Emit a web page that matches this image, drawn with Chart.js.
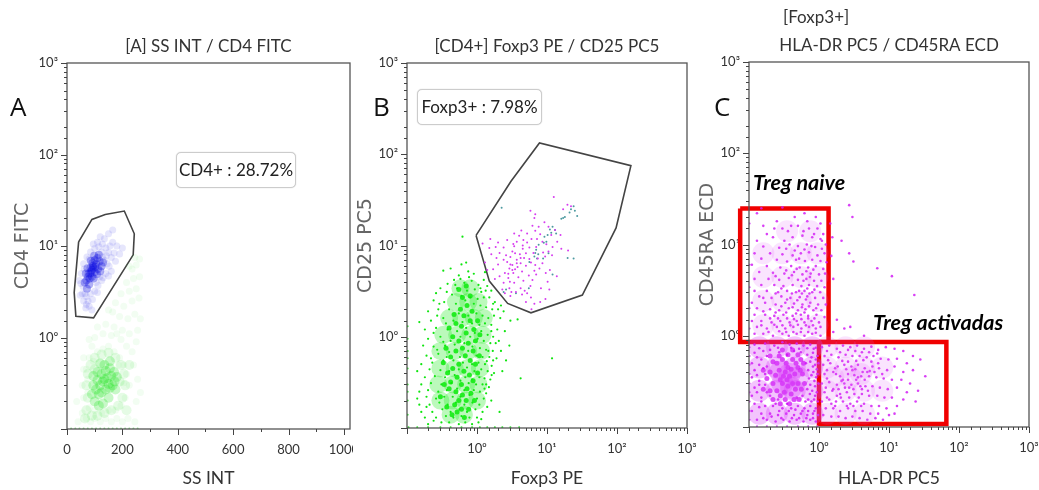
<!DOCTYPE html>
<html><head><meta charset="utf-8">
<style>
html,body{margin:0;padding:0;background:#fff;overflow:hidden}
#wrap{position:relative;width:1039px;height:490px;overflow:hidden;background:#fff}
canvas{position:absolute;top:0;background:#fff}
.t{position:absolute;white-space:nowrap;z-index:5}
.panel{font:26px "Open Sans",sans-serif;color:#111;line-height:30px}
.box{font:17px Lato,sans-serif;color:#222;border:1.5px solid #ccc;border-radius:5px;background:#fff;box-sizing:border-box;text-align:center;box-shadow:0 0 1px #bbb}
.treg{font:italic bold 21.5px Lato,sans-serif;color:#000}
</style></head><body>
<div id="wrap">
<canvas id="cA" width="360" height="490" style="left:0"></canvas>
<canvas id="cB" width="344" height="490" style="left:353px"></canvas>
<canvas id="cC" width="342" height="490" style="left:697px"></canvas>
<div class="t panel" style="left:10px;top:91px">A</div>
<div class="t panel" style="left:373px;top:91px">B</div>
<div class="t panel" style="left:714px;top:91px">C</div>
<div class="t box" style="left:176px;top:152px;width:120px;height:36px;line-height:33px">CD4+ : 28.72%</div>
<div class="t box" style="left:417px;top:89px;width:125px;height:36px;line-height:33px">Foxp3+ : 7.98%</div>
<div class="t treg" style="left:753px;top:169px">Treg naive</div>
<div class="t treg" style="left:873px;top:309px">Treg activadas</div>
<div class="t" style="left:783px;top:6px;font:17px Lato,sans-serif;color:#333">[Foxp3+]</div>
</div>
<script src="https://cdn.jsdelivr.net/npm/chart.js@4"></script>
<script>
const titleA="[A] SS INT / CD4 FITC", titleB="[CD4+] Foxp3 PE / CD25 PC5", titleC="HLA-DR PC5 / CD45RA ECD";
const logTickLabels={0.1:"",1:"10⁰",10:"10¹",100:"10²",1000:"10³"};

const gateA=[[42,11.1],[90,19.5],[138,22.1],[207,24.1],[243,13.6],[239,8],[96,1.64],[32,1.71],[26,3.1],[42,11.1]];
const gateB=[[.97,12.9],[3.06,50.6],[7.8,133],[158,75],[97,15.6],[32,2.86],[5.9,1.83],[2.74,2.32],[1.5,4.07],[.97,12.9]];
const rectNaive=[[.0748,24.8],[1.37,24.8],[1.37,.853],[.0748,.853],[.0748,24.8]];
const rectActiv=[[1,.853],[66,.853],[66,.108],[1,.108],[1,.853]];

const aBlueCore=[[70,4.2],[78,5],[85,5.8],[92,6.5],[100,7],[110,7.4],[118,6.8],[125,6],[112,5.6],[100,5.2],[90,4.6],[80,3.8],[72,3.4],[95,5.8],[105,6.3],[88,5.3],[82,4.4],[76,4.6],[96,4.4],[108,4.9],[120,5.3],[130,6.6],[115,8],[98,7.8],[86,6.9],[74,5.7],[68,5],[64,4],[90,5.5],[102,5.9],[84,5],[94,6.1]];
const aBlueHaze=[[55,3],[60,2.5],[68,2.1],[80,2.2],[92,2.6],[100,3.2],[112,3.7],[125,4.2],[140,5],[152,6],[160,7.5],[150,8.5],[140,9.5],[128,10.5],[115,9.8],[100,9.4],[85,8.6],[72,7.6],[60,6.4],[52,5],[50,3.9],[58,3.6],[70,2.8],[85,3],[105,4],[135,7],[145,6.4],[125,8.6],[110,11],[135,12],[155,10],[170,8.4],[165,11],[150,13.6],[165,15],[180,10],[190,8.2],[200,9.5],[175,6.8],[160,5.3],[130,4.5],[90,2],[48,2.9],[45,4.2],[70,2.3],[110,3.1],[95,10.5],[120,12.6],[142,7.8],[128,7.6],[62,5.6],[80,7.2],[65,3],[76,2.5],[118,4.6],[150,4.7]];
const aGreenCore=[[130,.33],[145,.36],[160,.38],[172,.33],[155,.28],[140,.27],[125,.25],[115,.24],[105,.27],[95,.3],[110,.34],[125,.4],[140,.43],[155,.46],[170,.42],[180,.37],[165,.3],[150,.22],[130,.19],[115,.18],[100,.2],[90,.24],[120,.3],[135,.35],[150,.31],[110,.42],[95,.38],[175,.27],[135,.5],[155,.55],[120,.52]];
const aGreenMid=[[70,.16],[75,.22],[70,.3],[75,.4],[85,.5],[100,.6],[125,.65],[150,.68],[175,.6],[195,.5],[205,.4],[210,.3],[200,.22],[185,.18],[160,.16],[135,.15],[110,.14],[90,.14],[100,.45],[190,.33],[65,.13],[215,.16],[225,.5]];
const aGreenHaze=[[40,.12],[55,.15],[70,.13],[85,.12],[100,.13],[120,.12],[140,.13],[160,.12],[180,.13],[200,.12],[220,.13],[245,.12],[35,.2],[60,.22],[75,.25],[75,.35],[70,.45],[80,.6],[90,.8],[110,.7],[130,.75],[150,.8],[170,.7],[190,.6],[205,.5],[215,.4],[225,.3],[210,.22],[195,.18],[175,.16],[150,.16],[125,.15],[100,.16],[80,.17],[55,.3],[60,.45],[240,.5],[255,.35],[265,.25],[250,.2],[235,.7],[250,.9],[215,.8],[195,.95],[160,1.05],[130,1.1],[110,1.3],[140,1.4],[170,1.3],[200,1.2],[225,1.1],[255,1.2],[265,1.6],[245,1.8],[220,1.6],[190,1.7],[165,1.9],[150,2],[175,2.4],[205,2.2],[235,2.5],[260,2.7],[250,3.4],[225,3.2],[195,3],[215,4],[240,4.4],[262,4.6],[235,5.6],[250,6.2],[245,7.5],[225,6],[262,7.2],[180,1.1],[100,1],[80,.95],[95,.55],[185,.5],[205,.32],[60,.6]];
const aGreenEdge=[[15,.101],[30,.101],[45,.101],[60,.101],[75,.101],[90,.101],[105,.101],[120,.101],[135,.101],[150,.101],[165,.101],[180,.101],[195,.101],[210,.101],[225,.101],[240,.101],[255,.101]];

const bGreenWash=[[.42,.14],[.65,.14],[.3,.2],[.45,.2],[.68,.2],[1,.2],[.28,.3],[.45,.3],[.7,.3],[1.05,.3],[.3,.45],[.48,.45],[.72,.45],[1.1,.45],[.3,.7],[.48,.7],[.75,.7],[1.15,.7],[.33,1.05],[.52,1.05],[.8,1.05],[1.2,1.05],[.4,1.6],[.6,1.6],[.9,1.6],[1.25,1.6],[.5,2.4],[.75,2.4],[1.05,2.4],[.58,3.4],[.8,3.4]];
const bGreenCore=[[.6,1.3],[.7,1.1],[.55,.9],[.75,.85],[.62,.75],[.5,.7],[.68,.62],[.8,.55],[.55,.5],[.45,.45],[.65,.42],[.78,.38],[.52,.36],[.42,.32],[.6,.3],[.72,.27],[.5,.25],[.4,.27],[.62,.23],[.55,.2],[.48,.18],[.7,.2],[.6,.16],[.52,.15],[.8,1.5],[.65,1.7],[.9,1.2],[.95,.9],[.88,.7],[.45,1],[.5,1.4],[.58,2],[.72,2.2],[.85,1.9],[.42,.6],[.95,.5],[.88,.33],[.38,.4],[.82,.24],[.34,.3],[.3,.22],[.37,.17],[.44,.14],[.66,.13],[.76,.16],[.92,.2],[.33,.52],[.36,.75],[.4,1.25],[.47,1.75],[.62,2.7],[.8,2.8],[1.02,1.5],[1.1,1.05],[1.08,.62],[1.02,.4],[.55,3.3],[.7,3.6]];
const bGreen=[[.42,5.6],[.6,6.2],[.75,5.2],[.9,4.9],[1.3,5.1],[.33,5.3],[.55,4.7],[.7,6.5],[.62,12.5],[.47,4.2],[.66,3.9],[.84,4.1],[1.05,3.7],[1.25,4.2],[.38,3.8],[.3,3.4],[.26,3],[.52,3.4],[.72,3.2],[.93,3.3],[1.15,3.1],[1.4,3.6],[1.6,3.2],[.44,2.9],[.6,2.8],[.8,2.7],[1.02,2.6],[1.25,2.7],[1.5,2.7],[1.8,2.4],[.24,2.5],[.34,2.4],[.5,2.3],[.68,2.5],[.9,2.3],[1.12,2.2],[1.35,2.1],[1.65,2],[2,2],[2.4,1.9],[.2,1.9],[.28,2],[.4,2],[.55,1.8],[.75,1.7],[.98,1.8],[1.2,1.7],[1.45,1.6],[1.75,1.7],[2.15,1.6],[3,1.5],[3.8,1.55],[.15,1.45],[.22,1.5],[.33,1.6],[.46,1.5],[.62,1.45],[.85,1.4],[1.08,1.35],[1.3,1.4],[1.6,1.35],[1.95,1.2],[2.5,1.15],[.18,1.2],[.26,1.25],[.38,1.2],[.52,1.15],[.7,1.25],[.93,1.1],[1.15,1.15],[1.42,1.05],[1.7,1],[.2,.95],[.3,1],[.42,.9],[.58,1],[.8,1],[1.02,.95],[1.25,.9],[1.55,.85],[2.05,.9],[2.9,.8],[.17,.8],[.24,.78],[.35,.8],[.48,.82],[.66,.85],[.86,.78],[1.1,.75],[1.35,.72],[1.68,.7],[2.2,.7],[.19,.62],[.28,.65],[.4,.68],[.57,.6],[.75,.7],[.98,.62],[1.2,.6],[1.5,.6],[1.9,.58],[2.6,.55],[.16,.5],[.23,.52],[.33,.55],[.46,.55],[.63,.52],[.85,.5],[1.05,.52],[1.3,.5],[1.62,.48],[.14,.42],[.21,.44],[.3,.43],[.4,.42],[.55,.44],[.72,.46],[.92,.42],[1.15,.44],[1.42,.42],[1.75,.4],[11.8,.58],[4.2,.35],[.18,.36],[.25,.37],[.35,.36],[.48,.38],[.68,.36],[.85,.34],[1.08,.36],[1.28,.35],[1.55,.34],[.16,.3],[.22,.31],[.31,.3],[.43,.31],[.58,.33],[.76,.31],[.97,.3],[1.2,.3],[1.48,.28],[.15,.25],[.2,.26],[.28,.25],[.37,.26],[.52,.27],[.66,.26],[.9,.26],[1.1,.25],[1.35,.24],[.14,.21],[.19,.22],[.26,.21],[.34,.22],[.45,.22],[.58,.22],[.78,.23],[1,.21],[1.25,.21],[1.6,.2],[.15,.18],[.21,.18],[.29,.19],[.38,.18],[.5,.19],[.66,.18],[.86,.19],[1.08,.18],[1.4,.17],[2.1,.15],[.16,.15],[.23,.15],[.32,.16],[.42,.15],[.56,.16],[.72,.15],[.95,.16],[1.2,.15],[.18,.13],[.26,.13],[.36,.135],[.46,.13],[.6,.135],[.78,.13],[1,.13],[.2,.11],[.4,.115],[.55,.11],[.68,.115],[.85,.11],[1.05,.115],[.29,2.3],[.37,3.1],[.49,3.7],[.58,4.3],[.77,4.5],[1.12,3.4],[1.33,3.2],[1.7,2.3],[2.2,2.2],[.27,1.7],[.36,1.4],[.24,1.1],[.33,.88],[.27,.72],[.22,.58],[.37,.6],[1.6,1.15],[1.85,.85],[1.45,.7],[1.7,.55],[1.38,.54],[1.62,.38],[1.35,.3],[1.28,.27],[.19,.17],[.24,.12],[.31,.115],[1.15,.125],[2.3,.42]];
const bGreenEdge=[[.105,.102],[.14,.102],[.2,.102],[.3,.102],[.42,.102],[.6,.102],[.85,.102],[1.1,.102],[1.4,.102],[1.8,.102],[2.3,.102],[3,.102],[4,.102],[.102,.14],[.102,.2],[.102,.3],[.102,.45],[.102,.7],[.102,.95],[.102,1.3],[.102,.58],[.102,.25]];
const bMagenta=[[1.2,10.5],[1.5,9.4],[1.6,8],[1.3,6.5],[1.4,5.4],[1.7,5.5],[2,6.2],[1.9,7.3],[2.1,8.3],[2.4,9.5],[2,10.8],[2.7,11.5],[2.4,7],[2.7,6.6],[3,7.5],[3.2,8.6],[3.4,9.8],[3.7,11],[4,12.8],[3.4,13.5],[4.6,11.5],[4.5,9.2],[4.1,8],[3.7,7],[3.2,6.1],[2.9,5.6],[2.5,5],[2.1,4.6],[1.8,4.3],[2.4,3.9],[2.8,4.4],[3.3,5],[3.5,5.5],[3.8,5.8],[4.2,6.4],[4.7,7.3],[5,8.2],[5.6,9.5],[5.2,10.8],[6,11.8],[5.2,13.5],[6.8,14.5],[8,13.3],[7.6,16],[6.2,16.5],[6.6,20],[5.8,24],[6.8,22],[12.5,34],[9.2,18],[10.5,16],[8.6,11],[7,9.6],[6.4,8.3],[5.6,7.1],[5,6],[4.4,5.2],[3.9,4.5],[3.4,3.9],[2.9,3.4],[2.5,3],[2.3,3.3],[3,2.8],[3.6,3.1],[4.2,3.4],[4.8,3.2],[5.2,3],[5.8,3.6],[6.2,4.2],[7,4.8],[7.8,5.6],[8.6,6.4],[9.4,7.6],[10.5,8.6],[12,9.6],[14,11],[15.6,13],[13,14.8],[11.5,13],[6,2],[6.6,2.3],[8,2.4],[9.5,2.6],[10.8,3.3],[8.2,3.4],[4.6,4.1],[5.5,4.7],[6.8,6.1],[7.4,7.2],[8.8,8.4],[20,8.8],[13.8,4.6],[16,9.2],[22,27],[19.6,28],[17,25],[3.1,3.1],[2.6,7.8],[1.85,9.6],[1.55,11.8],[3.3,10.4],[4.3,14.6],[2.95,4],[3.7,6.4],[4.2,7.3],[5.9,6.5],[6.6,5.3],[9.6,5],[11,5.4],[3.2,5.4],[2.8,4.9],[3,6.2],[3.5,8.2],[4.5,10],[7.2,11.8],[9.8,10.3],[11.8,7.8],[10.2,4],[5,2.4],[4.4,2.9],[5.9,2.7]];
const bTeal=[[22,25],[24,27],[25,24],[21,23],[27,21],[17,20],[16,19.6],[18,20.5],[12,16],[13,14.8],[11.5,13.8],[10.2,13],[11,15],[13.5,13.5],[9.2,12.5],[9,10.7],[9.8,11],[7.6,10.2],[7,9],[6.8,8.3],[7.5,8],[6.6,7.6],[7.2,7.2],[8.8,7.2],[19.7,7.3],[24,7.2],[12,4.8],[2.6,3.3],[2.4,3.1],[2.25,26],[5.5,3.4],[3.6,3],[5.6,6.6],[10.5,8.2]];

const cNaiveWash=[[.16,1.3],[.3,1.3],[.55,1.3],[.95,1.3],[.16,2.4],[.3,2.4],[.55,2.4],[.95,2.4],[.16,4.4],[.3,4.4],[.55,4.4],[.95,4.4],[.16,8],[.3,8],[.55,8],[.95,8],[.35,14],[.75,14]];
const cNaive=[[.15,25],[.3,25.5],[.13,22],[.25,18],[.45,20],[.62,22],[.9,20],[1.05,17],[.16,16],[.3,15],[.18,13],[.36,14],[.5,16],[.72,15],[.95,15],[1.15,13],[.13,11],[.22,12],[.32,11],[.42,12],[.58,12.5],[.8,12],[1.05,11.5],[1.25,10],[.16,9.5],[.27,9.2],[.38,10],[.5,9.6],[.67,10],[.88,9.4],[1.1,9],[.12,8],[.2,8],[.3,7.8],[.42,7.6],[.55,8],[.72,8.2],[.95,7.6],[1.2,8],[.15,7],[.25,6.8],[.35,6.5],[.47,6.8],[.63,6.6],[.8,6.8],[1.05,6.6],[1.28,6.4],[.11,6],[.18,5.8],[.28,5.6],[.4,5.8],[.53,5.6],[.7,5.6],[.9,5.8],[1.15,5.4],[.14,5],[.22,4.9],[.32,4.8],[.44,5],[.58,4.7],[.76,4.8],[1,4.7],[1.22,4.8],[.12,4.2],[.19,4.2],[.27,4.1],[.37,4.3],[.5,4.1],[.66,4.2],[.85,4],[1.08,4],[.15,3.6],[.23,3.6],[.31,3.5],[.42,3.6],[.56,3.5],[.72,3.6],[.94,3.5],[1.2,3.4],[.12,3.1],[.18,3.1],[.26,3],[.35,3.1],[.47,3],[.62,3.1],[.8,3],[1.04,3],[.14,2.7],[.21,2.6],[.29,2.7],[.39,2.6],[.53,2.65],[.68,2.7],[.88,2.6],[1.15,2.6],[.11,2.3],[.17,2.3],[.24,2.2],[.33,2.3],[.44,2.25],[.58,2.2],[.75,2.3],[.97,2.2],[1.25,2.2],[.13,2],[.2,1.95],[.27,1.9],[.37,2],[.5,1.9],[.64,1.95],[.83,1.9],[1.08,1.9],[.12,1.7],[.17,1.7],[.23,1.65],[.31,1.7],[.42,1.65],[.55,1.7],[.7,1.65],[.92,1.7],[1.2,1.6],[.11,1.45],[.15,1.45],[.21,1.4],[.28,1.45],[.38,1.4],[.48,1.45],[.62,1.4],[.78,1.45],[1,1.4],[.13,1.25],[.18,1.2],[.25,1.25],[.33,1.2],[.43,1.25],[.56,1.2],[.72,1.25],[.9,1.2],[.12,1.05],[.16,1.05],[.22,1],[.3,1.05],[.37,1],[.48,1.05],[.62,1],[.8,1.05],[1.05,1],[1.45,17],[1.55,12],[1.5,7.5],[1.6,4.2],[2.7,27],[3,20],[2.1,11],[2.7,8],[3.1,6.5],[6.8,5.5],[11,4.5],[23,2.8],[1.8,1.5],[2.3,1.2],[2.8,1.25],[4.4,1],[1.6,1.1],[.34,9],[.45,8.6],[.62,8.8],[.78,9.6],[.52,7],[.34,5.2],[.48,5.4],[.66,5.1],[.83,5.3],[.24,4.5],[.41,4.6],[.6,4],[.74,4.4],[.29,3.3],[.52,3.1],[.68,3.3],[.86,3.2],[.24,2.9],[.41,2.9],[.57,2.9],[.73,2.9],[.16,2.6],[.35,2.5],[.49,2.45],[.65,2.5],[.29,2.1],[.42,2.05],[.57,2.05],[.72,2.1],[.91,2],[.16,1.85],[.24,1.8],[.34,1.8],[.47,1.75],[.62,1.8],[.2,1.55],[.26,1.55],[.35,1.55],[.44,1.52],[.56,1.52],[.7,1.55],[.86,1.55],[.15,1.3],[.23,1.32],[.3,1.3],[.39,1.3],[.5,1.32],[.65,1.3],[.82,1.3],[1.05,1.25],[.19,1.1],[.27,1.12],[.34,1.1],[.43,1.1],[.55,1.1],[.7,1.1],[.9,1.08],[.6,14],[.85,13],[1.1,11],[.68,18],[.4,16],[.23,15]];
const cLowWash=[[.14,.14],[.25,.14],[.45,.14],[.8,.14],[.14,.25],[.25,.25],[.45,.25],[.8,.25],[.14,.45],[.25,.45],[.45,.45],[.8,.45],[.14,.75],[.25,.75],[.45,.75],[.8,.75],[.3,.3],[.38,.38],[.28,.4],[.4,.27],[.5,.35]];
const cLowCore=[[.2,.4],[.25,.5],[.3,.55],[.36,.45],[.42,.55],[.5,.45],[.58,.38],[.5,.3],[.42,.3],[.35,.33],[.28,.33],[.22,.3],[.18,.34],[.25,.25],[.32,.24],[.4,.23],[.33,.4],[.27,.42],[.45,.38],[.36,.28],[.3,.3],[.38,.36],[.24,.37],[.46,.26],[.33,.2],[.55,.55],[.2,.6],[.3,.7],[.42,.7],[.38,.18],[.16,.26],[.62,.3],[.22,.52],[.34,.5],[.47,.5],[.54,.42],[.56,.26],[.28,.22],[.2,.25],[.16,.42],[.27,.6],[.36,.62],[.5,.62],[.6,.5],[.44,.2],[.52,.2],[.28,.18],[.22,.2],[.4,.43],[.31,.36]];
const cLow=[[.12,.8],[.17,.82],[.23,.78],[.3,.85],[.38,.8],[.48,.82],[.6,.78],[.75,.8],[.9,.74],[.12,.65],[.16,.68],[.2,.7],[.27,.66],[.35,.62],[.44,.68],[.55,.66],[.68,.62],[.82,.65],[.95,.6],[.11,.5],[.15,.55],[.65,.5],[.75,.52],[.88,.48],[.98,.5],[.12,.42],[.16,.44],[.7,.42],[.83,.4],[.95,.38],[.11,.35],[.14,.32],[.72,.34],[.86,.32],[.98,.3],[.12,.27],[.68,.26],[.8,.25],[.93,.24],[.11,.22],[.15,.21],[.2,.22],[.26,.2],[.48,.21],[.58,.22],[.7,.2],[.85,.2],[.96,.19],[.12,.18],[.17,.17],[.22,.17],[.3,.16],[.4,.16],[.5,.17],[.62,.16],[.75,.17],[.9,.16],[.11,.15],[.15,.14],[.2,.14],[.26,.135],[.34,.14],[.44,.135],[.55,.14],[.68,.135],[.82,.14],[.97,.135],[.13,.12],[.18,.12],[.24,.115],[.31,.12],[.38,.115],[.48,.12],[.6,.115],[.75,.12],[.9,.115],[.14,.73],[.26,.74],[.4,.74],[.52,.72],[.68,.73],[.84,.72],[.13,.58],[.18,.6],[.78,.58],[.9,.55],[.14,.48],[.18,.46],[.82,.46],[.93,.43],[.13,.37],[.17,.38],[.78,.37],[.91,.35],[.14,.29],[.17,.29],[.75,.29],[.88,.28],[.13,.24],[.18,.24],[.74,.23],[.88,.22],[.15,.19],[.24,.18],[.35,.18],[.64,.19],[.78,.19],[.14,.165],[.27,.15],[.37,.15],[.46,.155],[.58,.15],[.7,.15],[.86,.15],[.16,.125],[.21,.13],[.29,.125],[.41,.125],[.52,.125],[.66,.125],[.82,.125]];
const cActivWash=[[1.3,.14],[2.4,.14],[4.4,.14],[1.3,.25],[2.4,.25],[4.4,.25],[8,.25],[1.3,.45],[2.4,.45],[4.4,.45],[8,.45],[1.3,.75],[2.4,.75],[4.4,.75],[1.6,.35],[2.8,.35],[4,.38]];
const cActiv=[[1.1,.75],[1.4,.78],[1.8,.72],[2.2,.78],[2.8,.75],[3.5,.78],[4.4,.72],[5.6,.76],[7,.7],[9,.75],[12,.72],[16,.68],[22,.6],[1.2,.6],[1.5,.62],[1.9,.58],[2.4,.62],[3,.6],[3.8,.6],[4.8,.58],[6,.6],[7.6,.56],[9.8,.55],[13,.56],[18,.5],[28,.55],[1.15,.48],[1.45,.5],[1.85,.46],[2.3,.48],[2.9,.46],[3.6,.48],[4.5,.44],[5.8,.46],[7.2,.44],[9.4,.42],[12,.46],[16,.4],[22,.42],[33,.36],[1.2,.38],[1.6,.4],[2,.36],[2.6,.38],[3.2,.37],[4,.36],[5.2,.36],[6.6,.35],[8.4,.34],[11,.33],[15,.33],[20,.3],[1.1,.3],[1.4,.31],[1.8,.29],[2.3,.3],[2.9,.29],[3.6,.3],[4.6,.28],[5.8,.28],[7.4,.27],[9.6,.26],[13,.27],[18,.24],[26,.25],[1.2,.24],[1.55,.25],[2,.23],[2.5,.24],[3.2,.23],[4.1,.23],[5.2,.22],[6.8,.22],[8.6,.21],[11,.21],[16,.2],[24,.19],[1.1,.19],[1.4,.2],[1.75,.19],[2.2,.19],[2.8,.18],[3.5,.19],[4.4,.18],[5.6,.17],[7.2,.17],[9.2,.16],[13,.17],[1.25,.16],[1.6,.16],[2,.15],[2.6,.16],[3.3,.15],[4.2,.15],[5.4,.14],[7,.14],[10,.135],[12,.14],[1.15,.135],[1.5,.13],[1.9,.13],[2.4,.125],[3,.13],[3.8,.125],[4.9,.12],[6.4,.125],[8.2,.12],[1.7,.17],[2.05,.21],[2.7,.27],[3.4,.33],[4.2,.4],[2.2,.33],[1.6,.26],[3,.42],[3.9,.28],[5.3,.41],[7,.5],[2.6,.52],[1.7,.44],[1.3,.68],[2,.66],[2.6,.7],[3.3,.68],[4.1,.66],[5.2,.66],[6.8,.64],[1.35,.54],[2.15,.53],[3.4,.53],[4.3,.54],[5.6,.52],[1.3,.42],[1.75,.38],[2.45,.43],[3.3,.43],[4.9,.4],[6.2,.4],[8,.38],[1.3,.34],[2.1,.32],[2.6,.33],[3.6,.35],[4.5,.33],[1.25,.27],[1.9,.26],[2.35,.27],[3.1,.26],[4.1,.26],[5,.25],[1.3,.21],[1.8,.22],[2.7,.21],[3.7,.21],[1.5,.18],[2.5,.17],[3.1,.17],[4,.17]];
const cEdge=[[.102,.12],[.102,.15],[.102,.19],[.102,.24],[.102,.3],[.102,.38],[.102,.48],[.102,.6],[.102,.75],[.102,1.2],[.102,2],[.102,3.4],[.102,6],[.102,17],[.13,.102],[.18,.102],[.25,.102],[.35,.102],[.5,.102],[.7,.102],[.95,.102]];

const face='Lato,sans-serif';
const frameAndTicks={id:'frameAndTicks',afterDraw(c){
  const g=c.ctx,a=c.chartArea;g.save();g.strokeStyle='#555';g.lineWidth=1.3;
  g.strokeRect(a.left,a.top,a.right-a.left,a.bottom-a.top);
  g.lineWidth=1;g.strokeStyle='#444';
  for(const t of c.scales.y.ticks){const p=Math.round(c.scales.y.getPixelForValue(t.value))+.5,L=logTickLabels[t.value]!==undefined?6:3;g.beginPath();g.moveTo(a.left,p);g.lineTo(a.left-L,p);g.stroke();}
  for(const t of c.scales.x.ticks){const p=Math.round(c.scales.x.getPixelForValue(t.value))+.5,lin=c.scales.x.type==='linear',L=lin?(t.value%200===0?6:3):(logTickLabels[t.value]!==undefined?6:3);g.beginPath();g.moveTo(p,a.bottom);g.lineTo(p,a.bottom+L);g.stroke();}
  g.restore();}};
const pts=a=>a.map(([x,y])=>({x,y}));
const cloud=(d,color,r)=>({data:pts(d),backgroundColor:color,borderWidth:0,pointRadius:r,pointStyle:'circle',showLine:false});
const outline=(d,color,w,clip)=>({data:pts(d),showLine:true,fill:false,borderColor:color,borderWidth:w,pointRadius:0,tension:0,clip:clip});
const logTick=v=>logTickLabels[v]||'';
function panel(id,o){
  return new Chart(document.getElementById(id),{type:'scatter',plugins:[frameAndTicks],
   data:{datasets:o.datasets},
   options:{responsive:false,animation:false,devicePixelRatio:1,events:[],
    layout:{autoPadding:false,padding:{left:0,right:o.right,top:0,bottom:0}},
    plugins:{legend:{display:false},tooltip:{enabled:false},
     title:{display:true,text:o.title,fullSize:false,color:'#333',font:{family:face,size:17,weight:'normal'},padding:{top:o.top-27,bottom:6.6}}},
    scales:{
     x:{type:o.linear?'linear':'logarithmic',min:o.linear?0:.1,max:o.linear?1022:1000,
        afterFit:s=>{s.height=490-o.bottom;s.paddingLeft=0;s.paddingRight=0},
        grid:{display:false,drawTicks:false},border:{display:false},
        ticks:o.linear?{stepSize:100,autoSkip:false,includeBounds:false,maxRotation:0,padding:13,color:'#333',font:{family:face,size:13},callback:v=>v%200===0?String(v):''}
                      :{autoSkip:false,maxRotation:0,padding:13,color:'#333',font:{family:face,size:13},callback:logTick},
        title:{display:true,text:o.xTitle,color:'#333',font:{family:face,size:17.5,weight:'normal'},padding:{top:0,bottom:1}}},
     y:{type:'logarithmic',min:.1,max:1000,
        afterFit:s=>{s.width=o.left;s.paddingTop=0;s.paddingBottom=0},
        grid:{display:false,drawTicks:false},border:{display:false},
        ticks:{autoSkip:false,padding:9,color:'#333',font:{family:face,size:13},callback:logTick},
        title:{display:true,text:o.yTitle,color:'#666',font:{family:'"DejaVu Sans",sans-serif',size:o.ySize,weight:'normal'},padding:{top:o.yPad,bottom:0}}}
    }}});
}
panel('cA',{title:titleA,xTitle:'SS INT',yTitle:'CD4 FITC',linear:true,left:67,right:10,top:63,bottom:429,ySize:19,yPad:12,
 datasets:[cloud(aGreenHaze,'rgba(40,225,40,.06)',3.5),cloud(aGreenMid,'rgba(40,225,40,.12)',5),cloud(aGreenCore,'rgba(0,225,0,.22)',5),cloud(aGreenEdge,'rgba(40,190,40,.5)',1),
  cloud(aBlueHaze,'rgba(60,60,235,.13)',3.5),cloud(aBlueCore,'rgba(10,10,225,.32)',4),outline(gateA,'#444',1.6,0)]});
panel('cB',{title:titleB,xTitle:'Foxp3 PE',yTitle:'CD25 PC5',left:54,right:10,top:63,bottom:428,ySize:19,yPad:2,
 datasets:[cloud(bGreenWash,'rgba(30,235,30,.3)',9),cloud(bGreenCore,'rgba(0,235,0,.85)',2.5),cloud(bGreen,'#0fe50f',1.1),cloud(bGreenEdge,'#2be52b',1),cloud(bMagenta,'#d63cf0',1),cloud(bTeal,'#4d9aa0',1),outline(gateB,'#444',1.6,0)]});
panel('cC',{title:titleC,xTitle:'HLA-DR PC5',yTitle:'CD45RA ECD',left:52,right:10,top:62,bottom:427,ySize:19,yPad:0,
 datasets:[cloud(cNaiveWash,'rgba(225,90,250,.16)',11),cloud(cActivWash,'rgba(225,90,250,.16)',11),cloud(cLowWash,'rgba(215,60,250,.3)',11),cloud(cNaive,'rgba(210,30,245,.85)',1.3),cloud(cLowCore,'rgba(205,0,245,.7)',2.5),cloud(cLow,'rgba(210,30,245,.9)',1.3),cloud(cEdge,'#d040f5',1),cloud(cActiv,'rgba(210,30,245,.85)',1.3),
  outline(rectNaive,'#f00000',4.5,false),outline(rectActiv,'#f00000',4.5,false)]});
</script>
</body></html>
